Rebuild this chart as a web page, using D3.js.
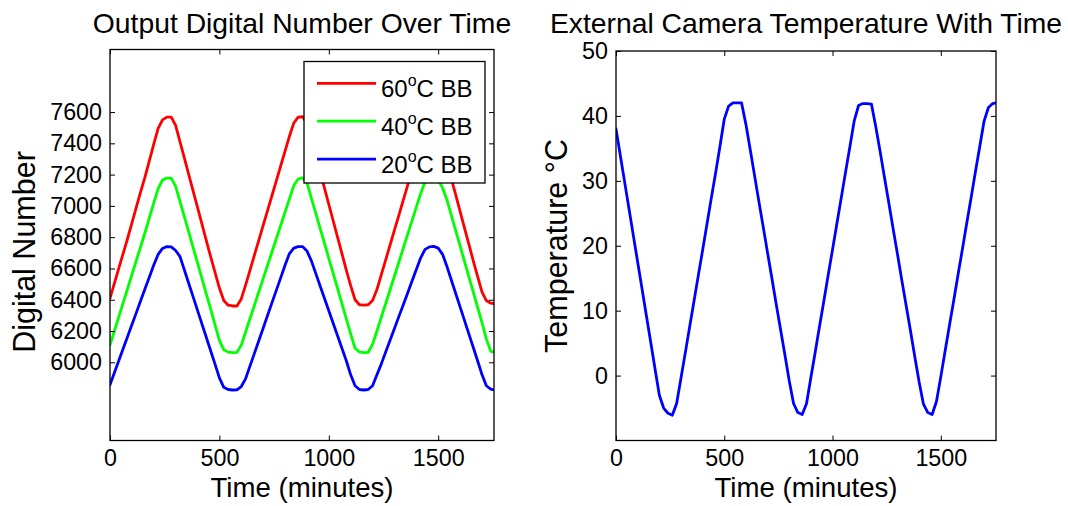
<!DOCTYPE html>
<html>
<head>
<meta charset="utf-8">
<script src="https://cdn.jsdelivr.net/npm/d3@7"></script>
<style>
  html, body { margin: 0; padding: 0; background: #fff; }
  svg { display: block; }
  text { font-family: "Liberation Sans", Arial, Helvetica, sans-serif; fill: #000; }
</style>
</head>
<body>
<script>
// ---------------- DATA ----------------
const timeMinutes = [0,20,40,60,80,100,120,140,160,180,200,220,240,260,280,300,320,340,360,380,
  400,420,440,460,480,500,520,540,560,580,600,620,640,660,680,700,720,740,760,780,
  800,820,840,860,880,900,920,940,960,980,1000,1020,1040,1060,1080,1100,1120,1140,1160,1180,
  1200,1220,1240,1260,1280,1300,1320,1340,1360,1380,1400,1420,1440,1460,1480,1500,1520,1540,1560,1580,
  1600,1620,1640,1660,1680,1700,1720,1740,1755];

const dn60 = [6410,6505,6600,6695,6790,6890,6990,7090,7185,7290,7395,7495,7550,7568,7568,7515,7410,7305,7200,7095,
  6990,6885,6780,6675,6575,6475,6395,6365,6360,6360,6405,6495,6590,6685,6780,6875,6970,7065,7160,7255,
  7350,7445,7530,7568,7570,7530,7430,7325,7220,7115,7010,6905,6800,6695,6590,6490,6400,6368,6365,6368,
  6395,6465,6560,6655,6750,6845,6940,7035,7130,7225,7320,7415,7510,7565,7568,7490,7385,7280,7175,7070,
  6965,6860,6755,6650,6550,6450,6395,6378,6375];

const dn40 = [6112,6200,6290,6380,6470,6560,6650,6740,6830,6925,7020,7110,7165,7178,7178,7125,7028,6930,6832,6733,
  6635,6536,6438,6340,6240,6140,6080,6065,6062,6063,6110,6195,6280,6365,6450,6535,6620,6705,6790,6875,
  6960,7045,7130,7172,7180,7150,7050,6955,6858,6762,6665,6568,6472,6375,6278,6182,6090,6066,6062,6064,
  6115,6200,6288,6376,6464,6552,6640,6728,6816,6904,6992,7080,7155,7178,7180,7165,7115,7038,6940,6842,
  6744,6646,6548,6450,6352,6254,6150,6070,6066];

const dn20 = [5856,5933,6010,6086,6163,6240,6316,6393,6470,6546,6622,6690,6728,6740,6738,6715,6676,6590,6504,6418,
  6332,6246,6160,6074,5988,5900,5840,5826,5823,5824,5845,5896,5977,6057,6138,6218,6299,6380,6460,6540,
  6620,6695,6730,6740,6740,6712,6650,6570,6490,6410,6330,6250,6170,6090,6010,5920,5850,5826,5823,5826,
  5850,5920,5990,6066,6141,6216,6292,6367,6442,6518,6593,6668,6722,6738,6741,6730,6690,6612,6526,6440,
  6354,6268,6182,6096,6010,5922,5850,5828,5824];

const cameraTemp = [38.0,33.9,29.8,25.7,21.6,17.5,13.4,9.3,5.2,1.1,-3.0,-5.0,-5.8,-6.1,-4.3,-0.4,3.5,7.5,11.4,15.4,
  19.3,23.3,27.3,31.2,35.3,39.5,41.5,42.0,42.0,42.0,38.7,34.8,30.8,26.8,22.9,18.9,15.0,11.0,7.1,3.2,
  -0.8,-4.3,-5.7,-6.0,-4.3,-0.3,3.6,7.6,11.5,15.5,19.4,23.4,27.3,31.3,35.2,39.2,41.6,41.9,41.9,41.8,
  38.3,34.5,30.5,26.6,22.6,18.7,14.7,10.8,6.9,2.9,-1.0,-4.4,-5.7,-6.0,-4.0,-0.2,3.8,7.7,11.6,15.6,
  19.5,23.5,27.4,31.4,35.3,39.2,41.3,41.9,42.0];

const seriesNames = ["60", "40", "20"];
const seriesColors = ["#ff0000", "#00ff00", "#0000ff"];
const seriesValues = [dn60, dn40, dn20];

const xTicks = [0, 500, 1000, 1500];
const xDomain = [0, 1755];
const dnTicks = [6000, 6200, 6400, 6600, 6800, 7000, 7200, 7400, 7600];
const dnDomain = [5500, 8000];
const tempTicks = [0, 10, 20, 30, 40, 50];
const tempDomain = [-10, 50];

const titles = ["Output Digital Number Over Time", "External Camera Temperature With Time"];
const xLabel = "Time (minutes)";
const yLabels = ["Digital Number", "Temperature \u00B0C"];

// ---------------- DRAW ----------------
const W = 1068, H = 506;
const FONT = '"Liberation Sans", Arial, Helvetica, sans-serif';
const svg = d3.select("body").append("svg").attr("width", W).attr("height", H);
svg.append("rect").attr("width", W).attr("height", H).attr("fill", "#fff");

const panels = [
  { left: 110, right: 494, top: 49.5, bottom: 440.5, yDomain: dnDomain, yTicks: dnTicks,
    title: titles[0], yLabel: yLabels[0], yLabelX: 35, yLabelY: 252 },
  { left: 616, right: 996, top: 51, bottom: 440.5, yDomain: tempDomain, yTicks: tempTicks,
    title: titles[1], yLabel: yLabels[1], yLabelX: 567, yLabelY: 246 }
];

const TICK_FONT = 23.3;

panels.forEach((p, i) => {
  const x = d3.scaleLinear().domain(xDomain).range([p.left, p.right]);
  const y = d3.scaleLinear().domain(p.yDomain).range([p.bottom, p.top]);
  const g = svg.append("g");

  const clipId = "clip" + i;
  svg.append("clipPath").attr("id", clipId).append("rect")
    .attr("x", p.left).attr("y", p.top).attr("width", p.right - p.left).attr("height", p.bottom - p.top);

  // Data lines
  const line = d3.line().x((d, k) => x(timeMinutes[k])).y(d => y(d));
  const dataSets = i === 0 ? seriesValues.map((v, k) => ({ v, c: seriesColors[k] }))
                           : [{ v: cameraTemp, c: "#0000ff" }];
  const lg = g.append("g").attr("clip-path", `url(#${clipId})`);
  dataSets.forEach(ds => {
    lg.append("path").datum(ds.v).attr("d", line)
      .attr("fill", "none").attr("stroke", ds.c).attr("stroke-width", 2.8)
      .attr("stroke-linejoin", "round").attr("stroke-linecap", "round");
  });

  // Axes (ticks inward, box)
  const styleAxis = sel => {
    sel.select(".domain").remove();
    sel.selectAll(".tick line").attr("stroke", "#000").attr("stroke-width", 1);
    sel.selectAll(".tick text").attr("font-size", TICK_FONT)
      .attr("font-family", FONT).attr("fill", "#000");
  };
  g.append("g").attr("transform", `translate(0,${p.bottom})`)
    .call(d3.axisBottom(x).tickValues(xTicks).tickSizeInner(-5).tickSizeOuter(0).tickPadding(9).tickFormat(d3.format("d")))
    .call(styleAxis);
  g.append("g").attr("transform", `translate(0,${p.top})`)
    .call(d3.axisTop(x).tickValues(xTicks).tickSizeInner(-5).tickSizeOuter(0).tickFormat(""))
    .call(styleAxis);
  g.append("g").attr("transform", `translate(${p.left},0)`)
    .call(d3.axisLeft(y).tickValues(p.yTicks).tickSizeInner(-5).tickSizeOuter(0).tickPadding(8).tickFormat(d3.format("d")))
    .call(styleAxis);
  g.append("g").attr("transform", `translate(${p.right},0)`)
    .call(d3.axisRight(y).tickValues(p.yTicks).tickSizeInner(-5).tickSizeOuter(0).tickFormat(""))
    .call(styleAxis);

  g.append("rect").attr("x", p.left).attr("y", p.top)
    .attr("width", p.right - p.left).attr("height", p.bottom - p.top)
    .attr("fill", "none").attr("stroke", "#000").attr("stroke-width", 1.3);

  // Title
  g.append("text").attr("x", (p.left + p.right) / 2).attr("y", 32.5)
    .attr("text-anchor", "middle").attr("font-size", 28.3).text(p.title);
  // X label
  g.append("text").attr("x", (p.left + p.right) / 2).attr("y", 497)
    .attr("text-anchor", "middle").attr("font-size", 27.6).text(xLabel);
  // Y label
  g.append("text").attr("transform", `translate(${p.yLabelX},${p.yLabelY}) rotate(-90)`)
    .attr("text-anchor", "middle").attr("font-size", 30.5).text(p.yLabel);
});

// Legend on first panel
const leg = svg.append("g");
leg.append("rect").attr("x", 304).attr("y", 61.5).attr("width", 181).attr("height", 121.5)
  .attr("fill", "#fff").attr("stroke", "#000").attr("stroke-width", 1.3);
seriesNames.forEach((name, k) => {
  const ly = 83.3 + k * 37.9;
  leg.append("line").attr("x1", 317).attr("x2", 376).attr("y1", ly).attr("y2", ly)
    .attr("stroke", seriesColors[k]).attr("stroke-width", 2.8);
  const t = leg.append("text").attr("x", 381).attr("y", ly + 13.5).attr("font-size", 24);
  t.append("tspan").text(name);
  t.append("tspan").attr("font-size", 16).attr("dy", -10.5).text("o");
  t.append("tspan").attr("dy", 10.5).text("C BB");
});
</script>
</body>
</html>
